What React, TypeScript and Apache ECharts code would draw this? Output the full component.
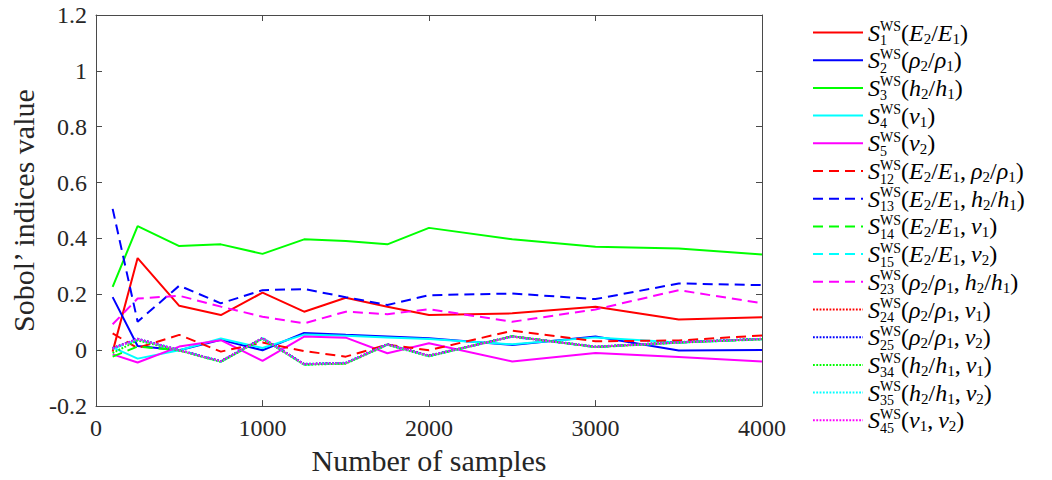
import React, { useEffect, useRef } from 'react';
import * as echarts from 'echarts';

// ---------- data ----------
const samples = [100, 250, 500, 750, 1000, 1250, 1500, 1750, 2000, 2500, 3000, 3500, 4000];

const s1 = [-0.005, 0.33, 0.159, 0.126, 0.206, 0.138, 0.188, 0.156, 0.126, 0.132, 0.156, 0.11, 0.118];
const s2 = [0.19, 0.015, 0.0, 0.037, 0.0, 0.062, 0.055, 0.049, 0.043, 0.019, 0.049, -0.001, 0.001];
const s3 = [0.227, 0.444, 0.373, 0.379, 0.345, 0.397, 0.391, 0.379, 0.438, 0.397, 0.37, 0.364, 0.343];
const s4 = [0.01, -0.03, 0.0, 0.042, 0.008, 0.056, 0.052, 0.046, 0.04, 0.021, 0.046, 0.028, 0.04];
const s5 = [-0.015, -0.044, 0.013, 0.036, -0.038, 0.049, 0.045, -0.011, 0.025, -0.04, -0.01, -0.024, -0.04];
const s12 = [0.06, 0.008, 0.055, -0.005, 0.028, -0.003, -0.023, 0.02, 0.0, 0.07, 0.032, 0.035, 0.053];
const s13 = [0.506, 0.102, 0.231, 0.168, 0.215, 0.219, 0.19, 0.162, 0.197, 0.203, 0.183, 0.239, 0.233];
const s14 = [-0.023, 0.013, 0.0, -0.041, 0.042, -0.051, -0.047, 0.021, -0.02, 0.05, 0.012, 0.028, 0.04];
const s15 = [0.005, 0.038, 0.001, -0.04, 0.043, -0.05, -0.046, 0.02, -0.021, 0.048, 0.011, 0.027, 0.039];
const s23 = [0.093, 0.185, 0.195, 0.156, 0.12, 0.096, 0.138, 0.129, 0.147, 0.102, 0.146, 0.215, 0.168];
const s24 = [0.007, 0.04, 0.0, -0.04, 0.043, -0.05, -0.046, 0.021, -0.02, 0.049, 0.012, 0.028, 0.04];
const s25 = [0.008, 0.041, 0.001, -0.039, 0.044, -0.049, -0.045, 0.022, -0.019, 0.05, 0.013, 0.029, 0.041];
const s34 = [-0.01, 0.035, -0.001, -0.042, 0.041, -0.052, -0.048, 0.019, -0.022, 0.05, 0.011, 0.027, 0.039];
const s35 = [0.006, 0.039, 0.0, -0.041, 0.042, -0.051, -0.046, 0.02, -0.021, 0.049, 0.012, 0.028, 0.04];
const s45 = [0.007, 0.04, 0.0, -0.04, 0.043, -0.05, -0.046, 0.021, -0.02, 0.049, 0.012, 0.028, 0.04];

const seriesValues = [s1, s2, s3, s4, s5, s12, s13, s14, s15, s23, s24, s25, s34, s35, s45];

const legendIndex = ['1', '2', '3', '4', '5', '12', '13', '14', '15', '23', '24', '25', '34', '35', '45'];
const legendArgs = [
  '(E_2/E_1)',
  '(ρ_2/ρ_1)',
  '(h_2/h_1)',
  '(ν_1)',
  '(ν_2)',
  '(E_2/E_1, ρ_2/ρ_1)',
  '(E_2/E_1, h_2/h_1)',
  '(E_2/E_1, ν_1)',
  '(E_2/E_1, ν_2)',
  '(ρ_2/ρ_1, h_2/h_1)',
  '(ρ_2/ρ_1, ν_1)',
  '(ρ_2/ρ_1, ν_2)',
  '(h_2/h_1, ν_1)',
  '(h_2/h_1, ν_2)',
  '(ν_1, ν_2)',
];

const yTicks = { min: -0.2, max: 1.2, step: 0.2 };
const xTicks = { min: 0, max: 4000, step: 1000 };

// ---------- styles ----------
const palette = ['#ff0000', '#0000ff', '#00ff00', '#00ffff', '#ff00ff'];
const DASH = [10, 6];
const DOT = [1.8, 1.5];
const lineKinds: any[] = [
  'solid', 'solid', 'solid', 'solid', 'solid',
  DASH, DASH, DASH, DASH, DASH,
  DOT, DOT, DOT, DOT, DOT,
];
const lineColors = [
  palette[0], palette[1], palette[2], palette[3], palette[4],
  palette[0], palette[1], palette[2], palette[3], palette[4],
  palette[0], palette[1], palette[2], palette[3], palette[4],
];

const SERIF = '"Liberation Serif", "Times New Roman", serif';
const AX = '#4a4a4a';
const TXT = '#262626';

const names = legendIndex.map((k, i) => `S${k}WS${legendArgs[i]}`);

function richLabel(i: number): string {
  let s = `{S|S}{sb0|${legendIndex[i]}}{sp|WS}`;
  const arg = legendArgs[i];
  let k = 0;
  while (k < arg.length) {
    const c = arg[k];
    if (c === '_') {
      s += `{sb|${arg[k + 1]}}`;
      k += 2;
      continue;
    }
    if (/[A-Za-z\u0370-\u03ff]/.test(c)) s += `{it|${c}}`;
    else if (c === ' ') s += `{sp2| }`;
    else s += `{rm|${c}}`;
    k++;
  }
  return s;
}

export default function App() {
  const ref = useRef<HTMLDivElement>(null);

  useEffect(() => {
    if (!ref.current) return;
    const chart = echarts.init(ref.current, undefined, { renderer: 'svg' });

    const series = seriesValues.map((vals, i) => ({
      name: names[i],
      type: 'line',
      data: samples.map((x, j) => [x, vals[j]]),
      showSymbol: false,
      symbol: 'none',
      lineStyle: { color: lineColors[i], width: 2, type: lineKinds[i], cap: 'butt' },
      itemStyle: { color: lineColors[i] },
      emphasis: { disabled: true },
      xAxisIndex: 0,
      yAxisIndex: 0,
    }));

    const baseX = {
      type: 'value',
      min: xTicks.min,
      max: xTicks.max,
      interval: xTicks.step,
      splitLine: { show: false },
      axisLine: { show: true, onZero: false, lineStyle: { color: AX, width: 1 } },
      axisTick: { show: true, inside: true, length: 6, lineStyle: { color: AX } },
    };
    const baseY = {
      type: 'value',
      min: yTicks.min,
      max: yTicks.max,
      interval: yTicks.step,
      splitLine: { show: false },
      axisLine: { show: true, onZero: false, lineStyle: { color: AX, width: 1 } },
      axisTick: { show: true, inside: true, length: 6, lineStyle: { color: AX } },
    };

    chart.setOption({
      animation: false,
      backgroundColor: '#ffffff',
      grid: { left: 96, right: 290, top: 15, bottom: 72, containLabel: false },
      xAxis: [
        {
          ...baseX,
          position: 'bottom',
          name: 'Number of samples',
          nameLocation: 'middle',
          nameGap: 36,
          nameTextStyle: { fontFamily: SERIF, fontSize: 30, color: TXT },
          axisLabel: {
            fontFamily: SERIF,
            fontSize: 24,
            color: TXT,
            margin: 10,
            formatter: (v: number) => String(v),
          },
        },
        { ...baseX, position: 'top', axisLabel: { show: false } },
      ],
      yAxis: [
        {
          ...baseY,
          position: 'left',
          name: 'Sobol’ indices value',
          nameLocation: 'middle',
          nameGap: 46,
          nameTextStyle: { fontFamily: SERIF, fontSize: 30, color: TXT },
          axisLabel: { fontFamily: SERIF, fontSize: 24, color: TXT, margin: 9 },
        },
        { ...baseY, position: 'right', axisLabel: { show: false } },
      ],
      legend: {
        orient: 'vertical',
        left: 812,
        top: 19.5,
        itemWidth: 50,
        itemHeight: 2,
        itemGap: -0.3,
        padding: 0,
        selectedMode: false,
        data: names,
        itemStyle: { opacity: 0 },
        formatter: (n: string) => richLabel(names.indexOf(n)),
        textStyle: {
          lineHeight: 26,
          color: '#000',
          rich: {
            S: { fontFamily: SERIF, fontStyle: 'italic', fontSize: 24, lineHeight: 26, color: '#000' },
            it: { fontFamily: SERIF, fontStyle: 'italic', fontSize: 24, lineHeight: 26, color: '#000' },
            rm: { fontFamily: SERIF, fontSize: 24, lineHeight: 26, color: '#000' },
            sp2: { fontFamily: SERIF, fontSize: 24, lineHeight: 26, color: '#000', width: 5 },
            sp: { fontFamily: SERIF, fontSize: 14, height: 14, verticalAlign: 'top', color: '#000' },
            sb0: { fontFamily: SERIF, fontSize: 14, height: 10, width: 0, verticalAlign: 'bottom', color: '#000' },
            sb: { fontFamily: SERIF, fontSize: 15, height: 14, verticalAlign: 'bottom', color: '#000' },
          },
        },
      },
      series,
    });

    return () => chart.dispose();
  }, []);

  return (
    <div
      ref={ref}
      style={{ position: 'fixed', left: 0, top: 0, width: 1052, height: 480, background: '#fff' }}
    />
  );
}
